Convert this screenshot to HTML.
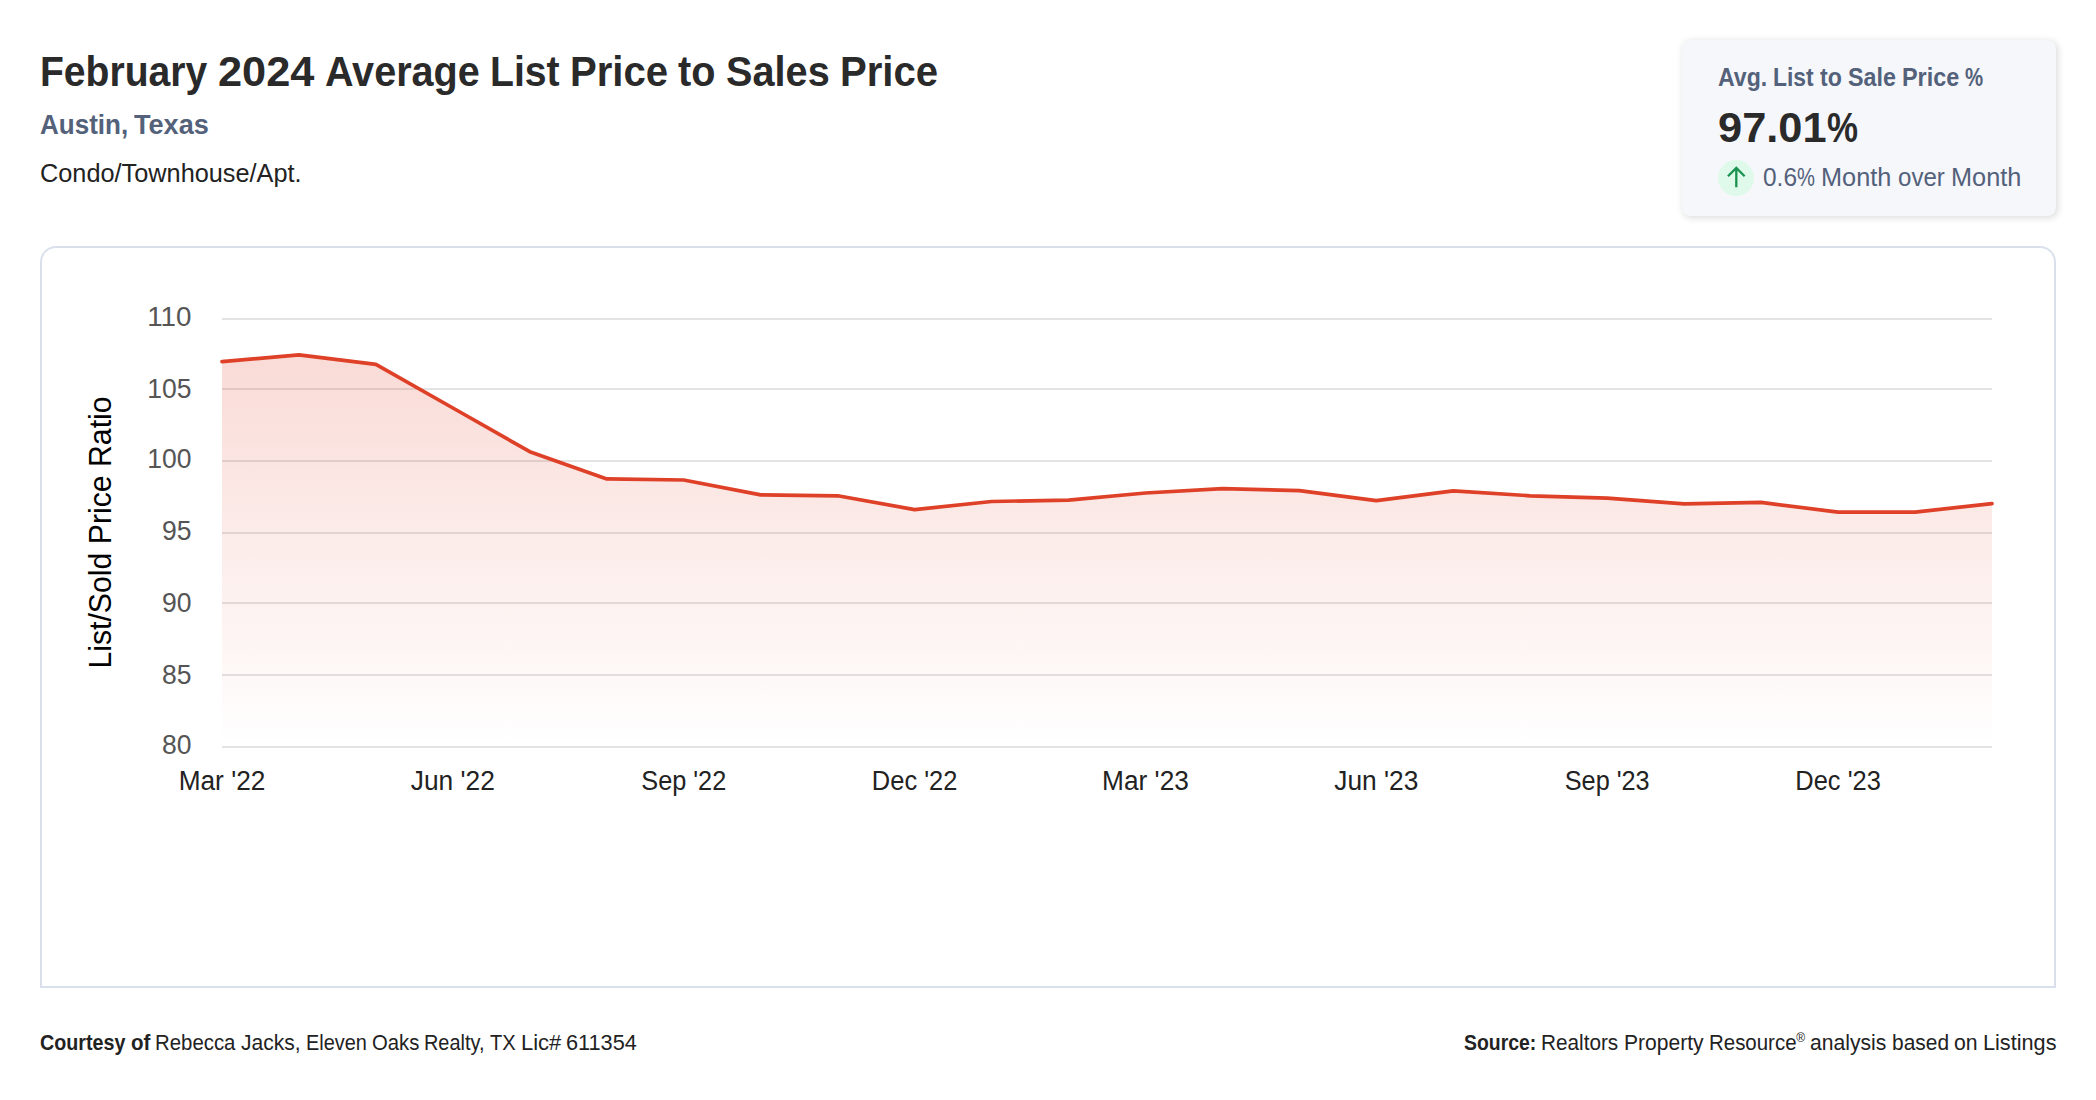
<!DOCTYPE html>
<html lang="en"><head><meta charset="utf-8"><title>February 2024 Average List Price to Sales Price</title>
<style>
html,body{margin:0;padding:0;background:#fff;}
body{width:2096px;height:1100px;position:relative;overflow:hidden;font-family:"Liberation Sans", sans-serif;color:#2a2a2a;}
.abs{position:absolute;white-space:nowrap;line-height:1;}
.w{display:inline-block;transform-origin:0 50%;}
#title{left:40.00px;top:49.91px;font-size:42.63px;font-weight:700;color:#2a2a2a;letter-spacing:0;word-spacing:-1.39px;}
#sub{left:40.00px;top:109.94px;font-size:28.42px;font-weight:700;color:#53617a;letter-spacing:0;word-spacing:-1.65px;}
#ptype{left:40.00px;top:160.95px;font-size:24.87px;color:#222;letter-spacing:0;}
#card{position:absolute;left:1682px;top:39.5px;width:374px;height:176.5px;border-radius:8.75px;background:#f6f7fb;box-shadow:1.75px 1.75px 7px rgba(0,0,0,.14);}
#clabel{left:1718.00px;top:65.25px;font-size:24.87px;font-weight:700;color:#53617a;letter-spacing:0;word-spacing:-0.80px;}
#cval{left:1718.00px;top:105.67px;font-size:43.39px;font-weight:700;color:#2a2a2a;letter-spacing:0;}
#circle{position:absolute;left:1718px;top:160px;width:36px;height:36px;border-radius:50%;background:#dffaea;}
#cmom{left:1763.00px;top:164.95px;font-size:24.87px;color:#53617a;letter-spacing:0;word-spacing:-0.81px;}
#box{position:absolute;left:40px;top:246px;width:2012px;height:738px;border:2px solid #d9e0ec;border-radius:16px 16px 0 0;box-sizing:content-box;}
#chart{position:absolute;left:0;top:0;}
#f1b{left:40.00px;top:1033.26px;font-size:21.31px;font-weight:700;color:#222;letter-spacing:0;word-spacing:-0.69px;}
#f1r{font-size:21.31px;font-weight:400;letter-spacing:0;word-spacing:-0.70px;}
#f2b{left:1464.00px;top:1033.26px;font-size:21.31px;font-weight:700;color:#222;letter-spacing:0;}
#f2r{font-size:21.31px;font-weight:400;letter-spacing:0;word-spacing:-0.69px;}
#f2s{font-size:21.31px;font-weight:400;letter-spacing:0;word-spacing:-0.70px;}
sup{font-size:12px;vertical-align:baseline;position:relative;top:-8.5px;letter-spacing:0;font-weight:400;}
</style></head><body>
<div id="title" class="abs"><span class="w" style="transform:scaleX(0.9167);margin-right:-15.20px">February</span> <span class="w" style="transform:scaleX(1.0165);margin-right:1.56px">2024</span> <span class="w" style="transform:scaleX(0.9286);margin-right:-11.91px">Average</span> <span class="w" style="transform:scaleX(0.9188);margin-right:-6.16px">List</span> <span class="w" style="transform:scaleX(0.9410);margin-right:-6.16px">Price</span> <span class="w" style="transform:scaleX(0.9293);margin-right:-2.84px">to</span> <span class="w" style="transform:scaleX(0.9310);margin-right:-7.69px">Sales</span> <span class="w" style="transform:scaleX(0.9411);margin-right:-6.14px">Price</span></div>
<div id="sub" class="abs"><span class="w" style="transform:scaleX(0.9162);margin-right:-8.06px">Austin,</span> <span class="w" style="transform:scaleX(0.9538);margin-right:-3.62px">Texas</span></div>
<div id="ptype" class="abs"><span class="w" style="transform:scaleX(1.0178);margin-right:4.58px">Condo/Townhouse/Apt.</span></div>
<div id="card"></div>
<div id="clabel" class="abs"><span class="w" style="transform:scaleX(0.9295);margin-right:-3.73px">Avg.</span> <span class="w" style="transform:scaleX(0.9187);margin-right:-3.59px">List</span> <span class="w" style="transform:scaleX(0.9294);margin-right:-1.66px">to</span> <span class="w" style="transform:scaleX(0.9368);margin-right:-3.23px">Sale</span> <span class="w" style="transform:scaleX(0.9412);margin-right:-3.58px">Price</span> <span class="w" style="transform:scaleX(0.8192);margin-right:-4.00px">%</span></div>
<div id="cval" class="abs"><span class="w" style="transform:scaleX(1.0003);margin-right:0.03px">97.01</span><span class="w" style="transform:scaleX(0.8049);margin-right:-7.53px">%</span></div>
<div id="circle"><svg width="36" height="36" viewBox="0 0 36 36"><path d="M18.3 27.2 V8.2 M9.95 16.2 L18.3 7.85 L26.65 16.2" fill="none" stroke="#19934f" stroke-width="2.3" stroke-linecap="butt" stroke-linejoin="miter"/></svg></div>
<div id="cmom" class="abs"><span class="w" style="transform:scaleX(0.9837);margin-right:-0.56px">0.6</span><span class="w" style="transform:scaleX(0.8121);margin-right:-4.16px">%</span> <span class="w" style="transform:scaleX(1.0188);margin-right:1.30px">Month</span> <span class="w" style="transform:scaleX(0.9680);margin-right:-1.55px">over</span> <span class="w" style="transform:scaleX(1.0190);margin-right:1.31px">Month</span></div>
<div id="box"></div>
<svg id="chart" width="2096" height="1100" viewBox="0 0 2096 1100">
<defs><linearGradient id="g" x1="0" y1="319" x2="0" y2="747" gradientUnits="userSpaceOnUse"><stop offset="0" stop-color="#de3a21" stop-opacity="0.2"/><stop offset="1" stop-color="#de3a21" stop-opacity="0"/></linearGradient></defs>
<g stroke="#e3e3e3" stroke-width="2" shape-rendering="crispEdges"><line x1="222" x2="1992" y1="319" y2="319"/><line x1="222" x2="1992" y1="389" y2="389"/><line x1="222" x2="1992" y1="461" y2="461"/><line x1="222" x2="1992" y1="533" y2="533"/><line x1="222" x2="1992" y1="603" y2="603"/><line x1="222" x2="1992" y1="675" y2="675"/><line x1="222" x2="1992" y1="747" y2="747"/></g>
<path d="M222.0 361.6 L299.0 354.8 L375.9 364.4 L452.9 408.0 L529.8 451.7 L606.8 478.9 L683.7 480.0 L760.7 494.9 L837.7 495.8 L914.6 509.6 L991.6 501.5 L1068.5 500.1 L1145.5 493.0 L1222.4 488.7 L1299.4 490.6 L1376.3 500.6 L1453.3 490.8 L1530.3 495.8 L1607.2 498.1 L1684.2 503.8 L1761.1 502.4 L1838.1 512.1 L1915.0 512.1 L1992.0 503.6 L1992.0 747 L222.0 747 Z" fill="url(#g)"/>
<path d="M222.0 361.6 L299.0 354.8 L375.9 364.4 L452.9 408.0 L529.8 451.7 L606.8 478.9 L683.7 480.0 L760.7 494.9 L837.7 495.8 L914.6 509.6 L991.6 501.5 L1068.5 500.1 L1145.5 493.0 L1222.4 488.7 L1299.4 490.6 L1376.3 500.6 L1453.3 490.8 L1530.3 495.8 L1607.2 498.1 L1684.2 503.8 L1761.1 502.4 L1838.1 512.1 L1915.0 512.1 L1992.0 503.6" fill="none" stroke="#de4128" stroke-width="3.7" stroke-linecap="round" stroke-linejoin="round"/>
<g font-size="27.12" fill="#555" text-anchor="end" font-family='"Liberation Sans", sans-serif'><text x="191.5" y="326" textLength="44.27" lengthAdjust="spacingAndGlyphs">110</text><text x="191.5" y="398" textLength="44.27" lengthAdjust="spacingAndGlyphs">105</text><text x="191.5" y="468" textLength="44.28" lengthAdjust="spacingAndGlyphs">100</text><text x="191.5" y="540" textLength="29.53" lengthAdjust="spacingAndGlyphs">95</text><text x="191.5" y="612" textLength="29.53" lengthAdjust="spacingAndGlyphs">90</text><text x="191.5" y="684" textLength="29.53" lengthAdjust="spacingAndGlyphs">85</text><text x="191.5" y="754" textLength="29.52" lengthAdjust="spacingAndGlyphs">80</text></g>
<g font-size="26.91" fill="#222" text-anchor="middle" font-family='"Liberation Sans", sans-serif'><text x="222.00" y="790.2" textLength="86.73" lengthAdjust="spacingAndGlyphs">Mar '22</text><text x="452.87" y="790.2" textLength="84.09" lengthAdjust="spacingAndGlyphs">Jun '22</text><text x="683.74" y="790.2" textLength="84.91" lengthAdjust="spacingAndGlyphs">Sep '22</text><text x="914.61" y="790.2" textLength="85.55" lengthAdjust="spacingAndGlyphs">Dec '22</text><text x="1145.48" y="790.2" textLength="86.73" lengthAdjust="spacingAndGlyphs">Mar '23</text><text x="1376.35" y="790.2" textLength="84.09" lengthAdjust="spacingAndGlyphs">Jun '23</text><text x="1607.22" y="790.2" textLength="84.91" lengthAdjust="spacingAndGlyphs">Sep '23</text><text x="1838.09" y="790.2" textLength="85.55" lengthAdjust="spacingAndGlyphs">Dec '23</text></g>
<text transform="translate(111 532.5) rotate(-90)" text-anchor="middle" font-size="30.45" textLength="272.17" lengthAdjust="spacingAndGlyphs" fill="#000" font-family='"Liberation Sans", sans-serif'>List/Sold Price Ratio</text>
</svg>
<div id="f1b" class="abs"><span class="w" style="transform:scaleX(0.9248);margin-right:-6.94px">Courtesy</span> <span class="w" style="transform:scaleX(0.9627);margin-right:-0.75px">of</span><span id="f1r"> <span class="w" style="transform:scaleX(0.9567);margin-right:-3.64px">Rebecca</span> <span class="w" style="transform:scaleX(0.9881);margin-right:-0.72px">Jacks,</span> <span class="w" style="transform:scaleX(0.9338);margin-right:-4.31px">Eleven</span> <span class="w" style="transform:scaleX(0.9525);margin-right:-2.36px">Oaks</span> <span class="w" style="transform:scaleX(0.9341);margin-right:-4.27px">Realty,</span> <span class="w" style="transform:scaleX(0.9443);margin-right:-1.52px">TX</span> <span class="w" style="transform:scaleX(1.0324);margin-right:1.27px">Lic#</span> <span class="w" style="transform:scaleX(1.0191);margin-right:1.33px">611354</span></span></div>
<div id="f2b" class="abs"><span class="w" style="transform:scaleX(0.9111);margin-right:-7.05px">Source:</span><span id="f2r"> <span class="w" style="transform:scaleX(0.9734);margin-right:-2.11px">Realtors</span> <span class="w" style="transform:scaleX(0.9878);margin-right:-0.98px">Property</span> <span class="w" style="transform:scaleX(0.9601);margin-right:-3.64px">Resource</span></span><sup>®</sup><span id="f2s"> <span class="w" style="transform:scaleX(0.9913);margin-right:-0.67px">analysis</span> <span class="w" style="transform:scaleX(0.9828);margin-right:-1.00px">based</span> <span class="w" style="transform:scaleX(0.9947);margin-right:-0.12px">on</span> <span class="w" style="transform:scaleX(1.0173);margin-right:1.25px">Listings</span></span></div>
</body></html>
